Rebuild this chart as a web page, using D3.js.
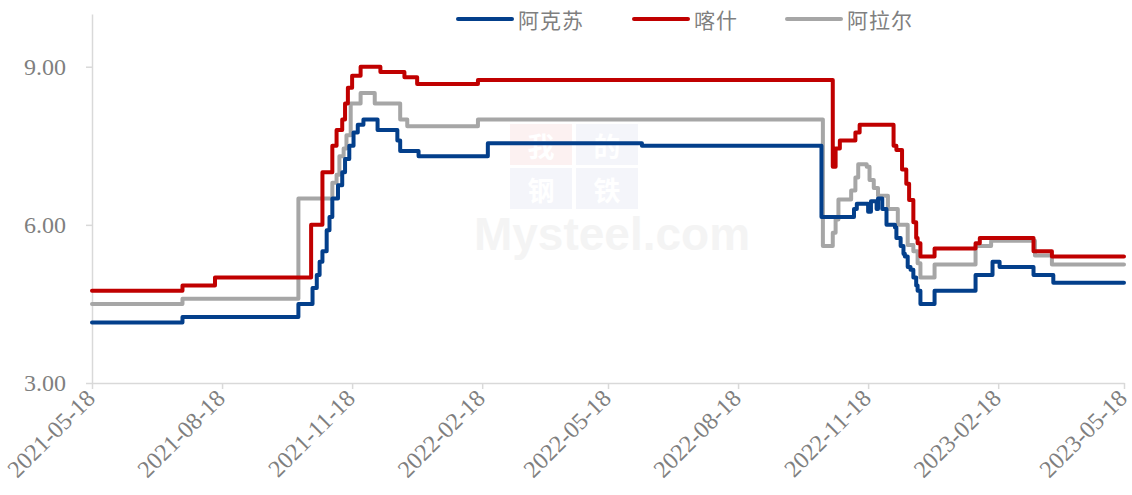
<!DOCTYPE html>
<html>
<head>
<meta charset="utf-8">
<script src="https://cdn.jsdelivr.net/npm/d3@7/dist/d3.min.js"></script>
<style>
html,body{margin:0;padding:0;background:#fff;}
svg{display:block;}
</style>
</head>
<body>
<svg id="chart" width="1132" height="495"></svg>
<script>
// ---------------- data ----------------
const seriesNames = ["阿克苏", "喀什", "阿拉尔"];
const seriesColors = ["#033f8b", "#c00000", "#a6a6a6"];

const akesuDates = ["2021-05-18","2021-07-21","2021-10-11","2021-10-21","2021-10-24","2021-10-26","2021-10-28","2021-10-31","2021-11-02","2021-11-04","2021-11-08","2021-11-11","2021-11-13","2021-11-16","2021-11-19","2021-11-22","2021-11-26","2021-12-06","2021-12-20","2021-12-22","2022-01-04","2022-02-22","2022-06-11","2022-10-16","2022-11-08","2022-11-10","2022-11-18","2022-11-20","2022-11-24","2022-11-25","2022-11-28","2022-12-01","2022-12-07","2022-12-08","2022-12-11","2022-12-13","2022-12-14","2022-12-16","2022-12-18","2022-12-20","2022-12-22","2022-12-23","2022-12-25","2023-01-04","2023-02-02","2023-02-14","2023-02-19","2023-03-15","2023-03-29","2023-05-18"];
const akesuValues = [4.15,4.25,4.50,4.80,5.05,5.30,5.50,5.90,6.15,6.50,6.75,7.00,7.25,7.50,7.75,7.90,8.00,7.80,7.60,7.40,7.30,7.55,7.50,6.15,6.30,6.40,6.25,6.45,6.30,6.50,6.30,6.00,5.95,5.75,5.60,5.45,5.40,5.20,5.15,5.00,4.85,4.75,4.50,4.75,5.05,5.30,5.20,5.05,4.90,4.90];

const kashiDates = ["2021-05-18","2021-07-21","2021-08-13","2021-10-20","2021-10-28","2021-11-04","2021-11-07","2021-11-11","2021-11-13","2021-11-15","2021-11-18","2021-11-24","2021-12-08","2021-12-25","2022-01-03","2022-02-15","2022-10-24","2022-10-26","2022-10-29","2022-11-09","2022-11-12","2022-12-06","2022-12-08","2022-12-12","2022-12-15","2022-12-17","2022-12-20","2022-12-22","2022-12-23","2022-12-25","2023-01-04","2023-02-02","2023-02-05","2023-03-15","2023-03-28","2023-05-18"];
const kashiValues = [4.75,4.85,5.00,6.00,7.00,7.50,7.80,8.00,8.30,8.60,8.83,9.00,8.90,8.80,8.67,8.75,7.10,7.45,7.60,7.75,7.90,7.50,7.42,7.05,6.78,6.47,6.05,5.75,5.65,5.40,5.55,5.65,5.75,5.50,5.40,5.40];

const alaerDates = ["2021-05-18","2021-07-21","2021-10-11","2021-11-04","2021-11-07","2021-11-09","2021-11-12","2021-11-14","2021-11-17","2021-11-24","2021-12-04","2021-12-22","2021-12-27","2022-02-15","2022-10-17","2022-10-24","2022-10-26","2022-10-28","2022-11-06","2022-11-09","2022-11-11","2022-11-17","2022-11-19","2022-11-22","2022-11-25","2022-12-02","2022-12-09","2022-12-16","2022-12-20","2022-12-23","2022-12-25","2023-01-04","2023-02-02","2023-02-13","2023-03-16","2023-03-28","2023-05-18"];
const alaerValues = [4.50,4.60,6.50,6.80,6.95,7.30,7.45,7.70,8.30,8.50,8.30,8.00,7.87,8.00,5.60,5.85,6.10,6.48,6.65,6.90,7.15,7.10,6.85,6.70,6.55,6.30,6.00,5.62,5.50,5.27,5.00,5.25,5.60,5.70,5.42,5.25,5.25];

const xTickLabels = ["2021-05-18","2021-08-18","2021-11-18","2022-02-18","2022-05-18","2022-08-18","2022-11-18","2023-02-18","2023-05-18"];
const yTickValues = [3, 6, 9];

// ---------------- chart ----------------
const parse = d3.utcParse("%Y-%m-%d");
const fmt = d3.utcFormat("%Y-%m-%d");
const svg = d3.select("#chart");

const x = d3.scaleUtc()
  .domain([parse(xTickLabels[0]), parse(xTickLabels[xTickLabels.length - 1])])
  .range([92, 1124]);
const y = d3.scaleLinear().domain([3, 10]).range([383, 14]);

const axisColor = "#d9d9d9";
const textColor = "#7f7f7f";
const serif = "'Liberation Serif','Times New Roman',serif";
const cjk = "'Noto Sans CJK SC','Noto Sans',sans-serif";

// watermark (very faint)
const wm = svg.append("g").attr("class", "watermark");
const wmBoxes = [
  {ch: "我", c: "#fcf1f1", col: 0, row: 0},
  {ch: "的", c: "#f4f5fa", col: 1, row: 0},
  {ch: "钢", c: "#f4f5fa", col: 0, row: 1},
  {ch: "铁", c: "#f4f5fa", col: 1, row: 1}
];
wmBoxes.forEach(b => {
  wm.append("rect").attr("x", 510 + b.col * 66).attr("y", 124 + b.row * 44)
    .attr("width", 62).attr("height", 41).attr("fill", b.c);
  wm.append("text").attr("x", 541 + b.col * 66).attr("y", 145 + b.row * 44)
    .attr("text-anchor", "middle").attr("dominant-baseline", "central")
    .attr("font-family", cjk).attr("font-weight", 700)
    .attr("font-size", 27).attr("fill", "#ffffff").text(b.ch);
});
wm.append("text").attr("x", 612).attr("y", 250).attr("text-anchor", "middle")
  .attr("font-family", "'Liberation Sans',Arial,sans-serif").attr("font-weight", 700)
  .attr("font-size", 46).attr("fill", "#f4f4f4").text("Mysteel.com");

// axes
const yAxis = d3.axisLeft(y).tickValues(yTickValues).tickFormat(d3.format(".2f"))
  .tickSize(6).tickSizeOuter(0).tickPadding(20);
const gy = svg.append("g").attr("transform", "translate(92,0)").call(yAxis);
gy.select(".domain").attr("stroke", axisColor).attr("stroke-width", 1.5);
gy.selectAll(".tick line").attr("stroke", axisColor).attr("stroke-width", 1.5);
gy.selectAll(".tick text").attr("fill", textColor).attr("font-family", serif).attr("font-size", 24);

const xAxis = d3.axisBottom(x).tickValues(xTickLabels.map(parse)).tickFormat(fmt)
  .tickSize(6).tickSizeOuter(0);
const gx = svg.append("g").attr("transform", "translate(0,383)").call(xAxis);
gx.select(".domain").attr("stroke", axisColor).attr("stroke-width", 1.5);
gx.selectAll(".tick line").attr("stroke", axisColor).attr("stroke-width", 1.5);
gx.selectAll(".tick text")
  .attr("fill", textColor).attr("font-family", serif).attr("font-size", 24)
  .attr("text-anchor", "end").attr("dy", null).attr("y", null)
  .attr("transform", "translate(0,13) rotate(-45)")
  .attr("dominant-baseline", "middle");

// lines
const seriesData = [
  akesuDates.map((d, i) => ({date: parse(d), value: akesuValues[i]})),
  kashiDates.map((d, i) => ({date: parse(d), value: kashiValues[i]})),
  alaerDates.map((d, i) => ({date: parse(d), value: alaerValues[i]}))
];
const line = d3.line().x(d => x(d.date)).y(d => y(d.value)).curve(d3.curveStepAfter);
const drawOrder = [2, 0, 1];
drawOrder.forEach(i => {
  svg.append("path").datum(seriesData[i])
    .attr("fill", "none").attr("stroke", seriesColors[i]).attr("stroke-width", 4)
    .attr("stroke-linejoin", "round").attr("stroke-linecap", "round")
    .attr("d", line);
});

// legend
const legendX = [458, 634, 787];
const lg = svg.append("g");
seriesNames.forEach((n, i) => {
  lg.append("line").attr("x1", legendX[i]).attr("x2", legendX[i] + 54)
    .attr("y1", 19).attr("y2", 19).attr("stroke", seriesColors[i])
    .attr("stroke-width", 4).attr("stroke-linecap", "round");
  lg.append("text").attr("x", legendX[i] + 60).attr("y", 19)
    .attr("dominant-baseline", "central").attr("font-family", cjk)
    .attr("font-size", 21).attr("letter-spacing", 1).attr("fill", textColor).text(n);
});
</script>
</body>
</html>
